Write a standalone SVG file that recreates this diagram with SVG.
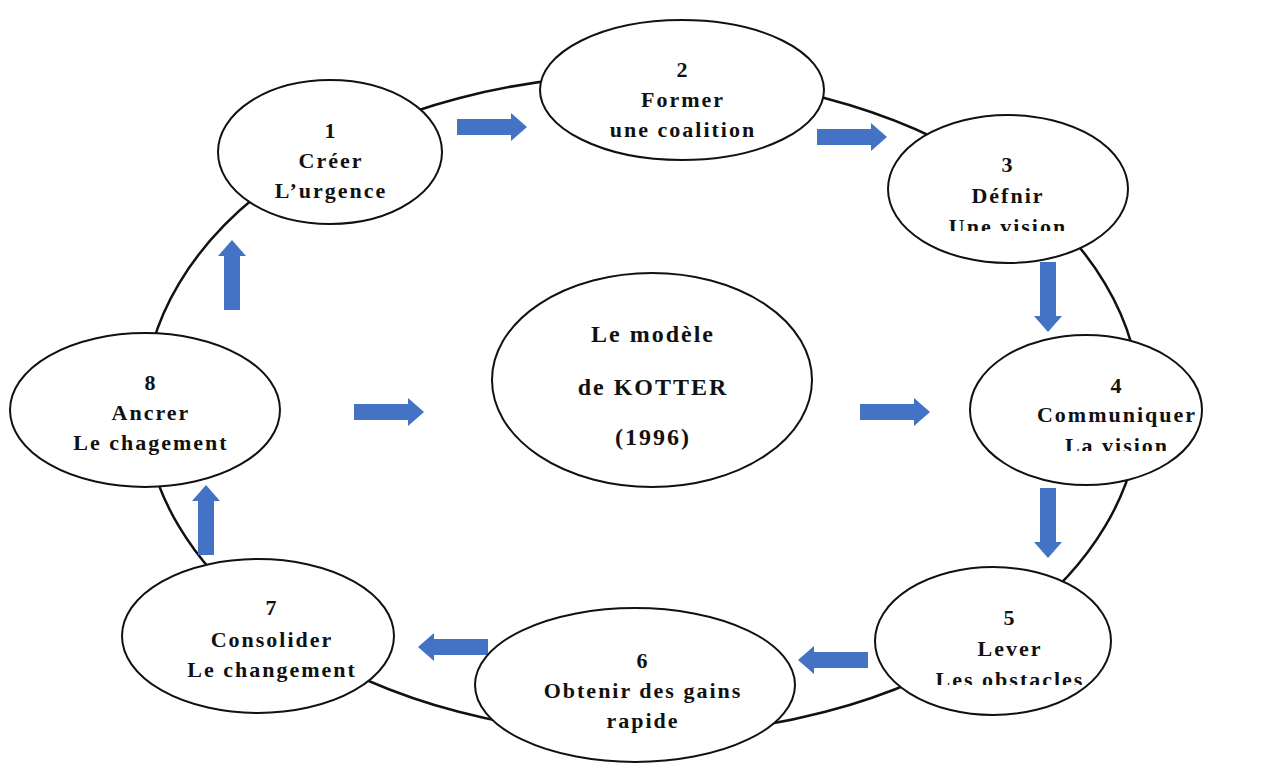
<svg xmlns="http://www.w3.org/2000/svg" width="1269" height="767" viewBox="0 0 1269 767">
<style>
.ring{fill:none;stroke:#111;stroke-width:2.5}
.node{fill:#fff;stroke:#111;stroke-width:2}
.t{font-family:"Liberation Serif","Times New Roman",serif;font-weight:bold;font-size:22px;letter-spacing:2px;fill:#111;text-anchor:middle}
.tc{font-size:24px}
.arrow{fill:#4472C4}
</style>
<defs>
<path id="arr" d="M0,-8 H54 V-14 L70,0 L54,14 V8 H0 Z"/>
<clipPath id="c3"><rect x="880" y="100" width="260" height="131"/></clipPath>
<clipPath id="c4"><rect x="960" y="320" width="260" height="131"/></clipPath>
<clipPath id="c5"><rect x="860" y="560" width="260" height="125"/></clipPath>
</defs>
<rect width="1269" height="767" fill="#fff"/>
<ellipse class="ring" cx="642" cy="405" rx="498" ry="330"/>
<g id="connectors">
<use href="#arr" class="arrow" transform="translate(457,127)"/>
<use href="#arr" class="arrow" transform="translate(817,137)"/>
<use href="#arr" class="arrow" transform="translate(1048,262) rotate(90)"/>
<use href="#arr" class="arrow" transform="translate(1048,488) rotate(90)"/>
<use href="#arr" class="arrow" transform="translate(868,660) rotate(180)"/>
<use href="#arr" class="arrow" transform="translate(488,647) rotate(180)"/>
<use href="#arr" class="arrow" transform="translate(206,555) rotate(-90)"/>
<use href="#arr" class="arrow" transform="translate(232,310) rotate(-90)"/>
<use href="#arr" class="arrow" transform="translate(354,412)"/>
<use href="#arr" class="arrow" transform="translate(860,412)"/>
</g>
<g id="node1">
<ellipse class="node" cx="330" cy="152" rx="112" ry="72"/>
<text class="t" x="331" y="138">1</text>
<text class="t" x="331" y="168">Créer</text>
<text class="t" x="331" y="198">L’urgence</text>
</g>
<g id="node2">
<ellipse class="node" cx="682" cy="90" rx="142" ry="70"/>
<text class="t" x="683" y="77">2</text>
<text class="t" x="683" y="107">Former</text>
<text class="t" x="683" y="137">une coalition</text>
</g>
<g id="node3">
<ellipse class="node" cx="1008" cy="189" rx="120" ry="74"/>
<g clip-path="url(#c3)">
<text class="t" x="1008" y="172">3</text>
<text class="t" x="1008" y="203">Défnir</text>
<text class="t" x="1008" y="234">Une vision</text>
</g>
</g>
<g id="node4">
<ellipse class="node" cx="1086" cy="410" rx="116" ry="75"/>
<g clip-path="url(#c4)">
<text class="t" x="1117" y="393">4</text>
<text class="t" x="1117" y="422">Communiquer</text>
<text class="t" x="1117" y="453">La vision</text>
</g>
</g>
<g id="node5">
<ellipse class="node" cx="993" cy="641" rx="118" ry="74"/>
<g clip-path="url(#c5)">
<text class="t" x="1010" y="625">5</text>
<text class="t" x="1010" y="656">Lever</text>
<text class="t" x="1010" y="687">Les obstacles</text>
</g>
</g>
<g id="node6">
<ellipse class="node" cx="635" cy="685" rx="160" ry="77"/>
<text class="t" x="643" y="668">6</text>
<text class="t" x="643" y="698">Obtenir des gains</text>
<text class="t" x="643" y="728">rapide</text>
</g>
<g id="node7">
<ellipse class="node" cx="258" cy="636" rx="136" ry="77"/>
<text class="t" x="272" y="615">7</text>
<text class="t" x="272" y="647">Consolider</text>
<text class="t" x="272" y="677">Le changement</text>
</g>
<g id="node8">
<ellipse class="node" cx="145" cy="410" rx="135" ry="77"/>
<text class="t" x="151" y="390">8</text>
<text class="t" x="151" y="420">Ancrer</text>
<text class="t" x="151" y="450">Le chagement</text>
</g>
<g id="center">
<ellipse class="node" cx="652" cy="380" rx="160" ry="107"/>
<text class="t tc" x="653" y="342">Le modèle</text>
<text class="t tc" x="653" y="395">de KOTTER</text>
<text class="t tc" x="653" y="445">(1996)</text>
</g>
</svg>
